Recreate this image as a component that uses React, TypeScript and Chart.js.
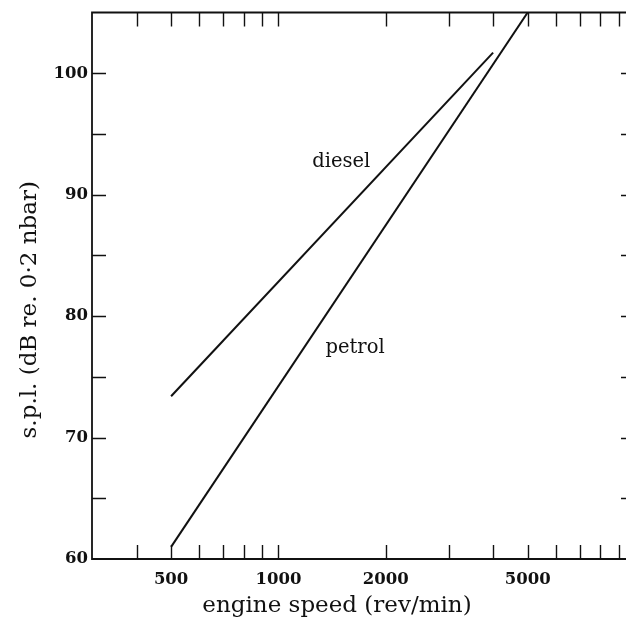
import React, { useEffect, useRef } from "react";
import { Chart, registerables } from "chart.js";

Chart.register(...registerables);

// Data
const dieselSpeed = [500, 4000];
const dieselSpl = [73.4, 101.7];
const petrolSpeed = [500, 5000];
const petrolSpl = [61.0, 105.0];

// Axis ticks
const xTickValues = [400, 500, 600, 700, 800, 900, 1000, 2000, 3000, 4000, 5000, 6000, 7000, 8000, 9000];
const xLabeledTicks = [500, 1000, 2000, 5000];
const yTickValues = [65, 70, 75, 80, 85, 90, 95, 100];
const yLabeledTicks = [60, 70, 80, 90, 100];

const xTitle = "engine speed (rev/min)";
const yTitle = "s.p.l. (dB re. 0·2 nbar)";
const seriesLabels = [
  { text: "diesel", x: 1500, y: 92.7 },
  { text: "petrol", x: 1640, y: 77.4 },
];

const INK = "#111";
const SERIF = '"DejaVu Serif", serif';

const framePlugin = {
  id: "frame",
  afterDraw(chart: any) {
    const { ctx, chartArea: a, scales } = chart;
    const xs = scales.x;
    const ys = scales.y;
    ctx.save();
    ctx.strokeStyle = INK;
    ctx.lineWidth = 1.8;
    // left, bottom and top borders (right border lies outside the visible page)
    ctx.beginPath();
    ctx.moveTo(a.right, a.top);
    ctx.lineTo(a.left, a.top);
    ctx.lineTo(a.left, a.bottom);
    ctx.lineTo(a.right, a.bottom);
    ctx.stroke();
    ctx.lineWidth = 1.4;
    const tl = 14;
    ctx.beginPath();
    for (const v of xTickValues) {
      const px = Math.round(xs.getPixelForValue(v)) + 0.5;
      ctx.moveTo(px, a.bottom);
      ctx.lineTo(px, a.bottom - tl);
      ctx.moveTo(px, a.top);
      ctx.lineTo(px, a.top + tl);
    }
    for (const v of yTickValues) {
      const py = Math.round(ys.getPixelForValue(v)) + 0.5;
      ctx.moveTo(a.left, py);
      ctx.lineTo(a.left + tl, py);
      ctx.moveTo(a.right, py);
      ctx.lineTo(a.right - tl, py);
    }
    ctx.stroke();

    ctx.fillStyle = INK;
    ctx.textAlign = "center";
    ctx.textBaseline = "middle";
    ctx.font = `19.5px ${SERIF}`;
    for (const l of seriesLabels) {
      ctx.fillText(l.text, xs.getPixelForValue(l.x), ys.getPixelForValue(l.y));
    }

    ctx.font = `23px ${SERIF}`;
    ctx.fillText(xTitle, a.left + 245, a.bottom + 47);

    ctx.save();
    ctx.translate(30, (a.top + a.bottom) / 2 + 24);
    ctx.rotate(-Math.PI / 2);
    ctx.fillText(yTitle, 0, 0);
    ctx.restore();
    ctx.restore();
  },
};

export default function App() {
  const ref = useRef<HTMLCanvasElement | null>(null);

  useEffect(() => {
    if (!ref.current) return;
    const chart = new Chart(ref.current, {
      type: "line",
      data: {
        datasets: [
          {
            label: "diesel",
            data: dieselSpeed.map((x, i) => ({ x, y: dieselSpl[i] })),
            borderColor: INK,
            borderWidth: 2,
            pointRadius: 0,
            tension: 0,
          },
          {
            label: "petrol",
            data: petrolSpeed.map((x, i) => ({ x, y: petrolSpl[i] })),
            borderColor: INK,
            borderWidth: 2,
            pointRadius: 0,
            tension: 0,
          },
        ],
      },
      options: {
        responsive: false,
        animation: false,
        layout: { padding: { left: 0, right: 15, top: 12.5, bottom: 0 } },
        plugins: {
          legend: { display: false },
          tooltip: { enabled: false },
        },
        scales: {
          x: {
            type: "logarithmic",
            min: 300,
            max: 10000,
            grid: { display: false, drawTicks: false },
            border: { display: false },
            afterBuildTicks: (s: any) => {
              s.ticks = xTickValues.map((v) => ({ value: v }));
            },
            afterFit: (s: any) => {
              s.height = 68;
            },
            ticks: {
              autoSkip: false,
              maxRotation: 0,
              padding: 11,
              color: INK,
              font: { family: SERIF, size: 16.5, weight: "bold" },
              callback: (v: any) => (xLabeledTicks.includes(Number(v)) ? String(v) : ""),
            },
          },
          y: {
            type: "linear",
            min: 60,
            max: 105,
            grid: { display: false, drawTicks: false },
            border: { display: false },
            afterFit: (s: any) => {
              s.width = 92;
            },
            ticks: {
              stepSize: 5,
              padding: 4,
              color: INK,
              font: { family: SERIF, size: 16.5, weight: "bold", lineHeight: 1 },
              callback: (v: any) => (yLabeledTicks.includes(Number(v)) ? String(v) : ""),
            },
          },
        },
      },
      plugins: [framePlugin],
    });
    return () => chart.destroy();
  }, []);

  return (
    <>
      <style>{`body{margin:0;background:#fff}`}</style>
      <div style={{ width: 626, height: 627, overflow: "hidden", background: "#fff" }}>
        <canvas ref={ref} width={650} height={627} style={{ display: "block" }} />
      </div>
    </>
  );
}
